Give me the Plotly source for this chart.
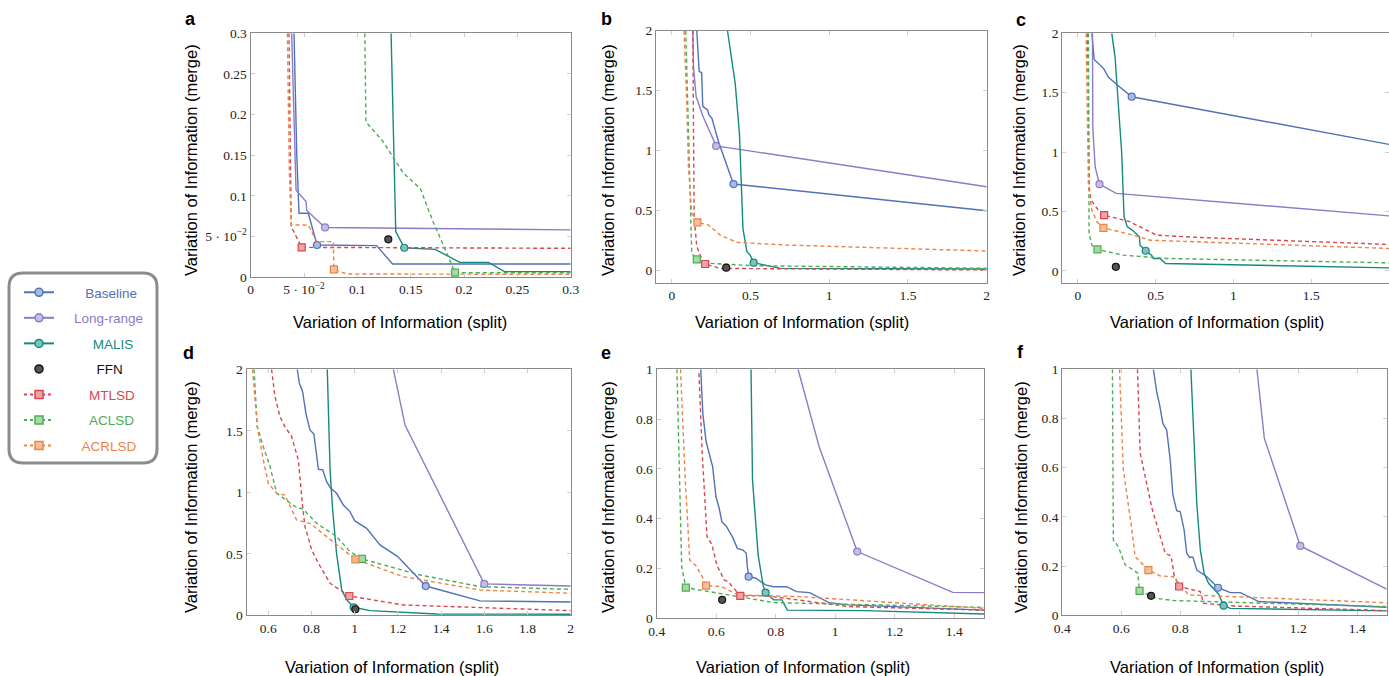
import plotly.graph_objects as go

W, H = 1389, 676

# ---------------- methods / styles ----------------
METHODS = ["Baseline", "Long-range", "MALIS", "FFN", "MTLSD", "ACLSD", "ACRLSD"]
LINE_COLORS = ["#4f72b8", "#8a7cc8", "#16897f", "#111111", "#d8474f", "#4cad52", "#ea8547"]
FILL_COLORS = ["#a9bbe2", "#c6bde6", "#7cc3bb", "#555555", "#eda3a7", "#a7d9a6", "#f5bf9b"]
DASHED = [False, False, False, False, True, True, True]
SYMBOLS = ["circle", "circle", "circle", "circle", "square", "square", "square"]
LEGEND_PAD = [7, 4, 9, 10, 8, 8, 6]   # leading spaces to centre the legend labels

# ---------------- panel a ----------------
a_baseline_x = [0.0406, 0.0432, 0.0453, 0.054, 0.0622, 0.118, 0.133, 0.3]
a_baseline_y = [0.3, 0.15, 0.0784, 0.0784, 0.0394, 0.0386, 0.016, 0.016]
a_longrange_x = [0.0384, 0.0425, 0.0519, 0.0525, 0.0697, 0.3]
a_longrange_y = [0.3, 0.107, 0.093, 0.082, 0.061, 0.058]
a_malis_x = [0.1316, 0.136, 0.144, 0.173, 0.196, 0.223, 0.238, 0.3]
a_malis_y = [0.3, 0.0558, 0.036, 0.034, 0.018, 0.018, 0.0066, 0.0066]
a_mtlsd_x = [0.0359, 0.0372, 0.038, 0.0478, 0.3]
a_mtlsd_y = [0.3, 0.12, 0.062, 0.0365, 0.0353]
a_aclsd_x = [0.107, 0.108, 0.124, 0.143, 0.159, 0.171, 0.184, 0.1916, 0.3]
a_aclsd_y = [0.3, 0.191, 0.167, 0.128, 0.109, 0.068, 0.029, 0.0053, 0.0053]
a_acrlsd_x = [0.0344, 0.0362, 0.038, 0.054, 0.062, 0.0775, 0.078, 0.09, 0.3]
a_acrlsd_y = [0.3, 0.13, 0.064, 0.064, 0.0435, 0.0435, 0.0094, 0.0037, 0.0033]
a_marks_x = [0.0622, 0.0697, 0.144, 0.129, 0.0478, 0.1916, 0.078]
a_marks_y = [0.0394, 0.061, 0.036, 0.0464, 0.0365, 0.0053, 0.0094]

# ---------------- panel b ----------------
b_baseline_x = [0.159, 0.174, 0.19, 0.197, 0.227, 0.236, 0.255, 0.269, 0.297, 0.392, 2.0]
b_baseline_y = [2.0, 1.66, 1.65, 1.37, 1.34, 1.30, 1.27, 1.21, 1.075, 0.722, 0.5]
b_longrange_x = [0.134, 0.138, 0.155, 0.2, 0.282, 2.0]
b_longrange_y = [2.0, 1.7, 1.45, 1.28, 1.04, 0.7]
b_malis_x = [0.354, 0.403, 0.43, 0.452, 0.477, 0.498, 0.52, 0.573, 0.69, 2.0]
b_malis_y = [2.0, 1.56, 1.14, 0.353, 0.158, 0.13, 0.067, 0.053, 0.019, 0.014]
b_mtlsd_x = [0.134, 0.138, 0.142, 0.159, 0.185, 0.212, 0.308, 2.0]
b_mtlsd_y = [2.0, 1.14, 0.45, 0.2, 0.117, 0.056, 0.019, 0.006]
b_aclsd_x = [0.089, 0.106, 0.117, 0.127, 0.159, 0.244, 0.52, 2.0]
b_aclsd_y = [2.0, 1.14, 0.45, 0.144, 0.094, 0.061, 0.042, 0.02]
b_acrlsd_x = [0.078, 0.095, 0.106, 0.127, 0.163, 0.233, 0.308, 0.414, 0.73, 2.0]
b_acrlsd_y = [2.0, 1.42, 0.87, 0.48, 0.403, 0.38, 0.297, 0.236, 0.214, 0.164]
b_marks_x = [0.392, 0.282, 0.52, 0.346, 0.212, 0.159, 0.163]
b_marks_y = [0.722, 1.04, 0.067, 0.025, 0.056, 0.094, 0.403]

# ---------------- panel c ----------------
c_baseline_x = [0.09, 0.105, 0.165, 0.197, 0.254, 0.346, 2.0]
c_baseline_y = [2.0, 1.78, 1.705, 1.63, 1.565, 1.466, 1.065]
c_longrange_x = [0.094, 0.096, 0.111, 0.139, 0.246, 2.0]
c_longrange_y = [2.0, 1.21, 0.876, 0.73, 0.652, 0.463]
c_malis_x = [0.218, 0.239, 0.282, 0.297, 0.318, 0.35, 0.395, 0.40, 0.436, 0.474, 0.485, 0.528, 0.564, 1.361, 2.0]
c_malis_y = [2.0, 1.8, 0.99, 0.455, 0.37, 0.343, 0.287, 0.216, 0.169, 0.132, 0.104, 0.104, 0.062, 0.042, 0.025]
c_mtlsd_x = [0.062, 0.073, 0.083, 0.132, 0.169, 0.335, 0.506, 0.784, 2.0]
c_mtlsd_y = [2.0, 0.708, 0.6, 0.511, 0.469, 0.413, 0.30, 0.281, 0.222]
c_aclsd_x = [0.068, 0.072, 0.09, 0.126, 0.293, 0.57, 2.0]
c_aclsd_y = [2.0, 0.315, 0.216, 0.18, 0.132, 0.104, 0.067]
c_acrlsd_x = [0.053, 0.068, 0.09, 0.122, 0.164, 0.357, 0.464, 0.784, 2.0]
c_acrlsd_y = [2.0, 0.708, 0.511, 0.413, 0.362, 0.30, 0.258, 0.244, 0.188]
c_marks_x = [0.346, 0.139, 0.436, 0.244, 0.169, 0.126, 0.164]
c_marks_y = [1.466, 0.73, 0.169, 0.034, 0.469, 0.18, 0.362]

# ---------------- panel d ----------------
d_baseline_x = [0.734, 0.744, 0.759, 0.774, 0.793, 0.811, 0.832, 0.852, 0.87, 0.889, 0.916, 0.947, 0.978,
                1.001, 1.055, 1.117, 1.199, 1.256, 1.329, 1.58, 2.0]
d_baseline_y = [2.0, 1.886, 1.818, 1.642, 1.507, 1.474, 1.187, 1.182, 1.087, 1.033, 0.992, 0.897, 0.843,
                0.767, 0.707, 0.572, 0.477, 0.369, 0.238, 0.117, 0.108]
d_longrange_x = [1.179, 1.233, 1.6, 2.0]
d_longrange_y = [2.0, 1.547, 0.255, 0.238]
d_malis_x = [0.873, 0.886, 0.898, 0.916, 0.94, 0.963, 0.995, 1.071, 1.379, 2.0]
d_malis_y = [2.0, 1.18, 0.856, 0.504, 0.206, 0.125, 0.065, 0.038, 0.011, 0.008]
d_mtlsd_x = [0.615, 0.631, 0.654, 0.677, 0.708, 0.739, 0.759, 0.77, 0.801, 0.832, 0.886, 0.947, 0.975, 1.225, 2.0]
d_mtlsd_y = [2.0, 1.778, 1.615, 1.534, 1.453, 1.263, 0.883, 0.721, 0.531, 0.423, 0.26, 0.192, 0.157, 0.084, 0.038]
d_aclsd_x = [0.534, 0.549, 0.577, 0.608, 0.639, 0.693, 0.724, 0.762, 0.824, 0.916, 0.978, 1.034, 1.302, 1.58, 2.0]
d_aclsd_y = [2.0, 1.534, 1.371, 1.209, 0.992, 0.924, 0.883, 0.862, 0.748, 0.64, 0.518, 0.458, 0.328, 0.233, 0.211]
d_acrlsd_x = [0.527, 0.549, 0.577, 0.6, 0.639, 0.677, 0.731, 0.793, 0.87, 0.947, 1.003, 1.225, 1.58, 2.0]
d_acrlsd_y = [2.0, 1.534, 1.263, 1.073, 0.992, 0.978, 0.775, 0.748, 0.64, 0.531, 0.455, 0.314, 0.206, 0.179]
d_marks_x = [1.329, 1.6, 0.995, 1.003, 0.975, 1.034, 1.003]
d_marks_y = [0.238, 0.255, 0.065, 0.049, 0.157, 0.458, 0.455]

# ---------------- panel e ----------------
e_baseline_x = [0.548, 0.555, 0.566, 0.588, 0.599, 0.61, 0.619, 0.635, 0.657, 0.671, 0.69, 0.701, 0.704,
                0.709, 0.733, 0.766, 0.793, 0.837, 0.87, 0.914, 0.979, 1.045, 1.5]
e_baseline_y = [1.0, 0.823, 0.71, 0.609, 0.489, 0.442, 0.388, 0.368, 0.321, 0.281, 0.274, 0.261, 0.214,
                0.167, 0.161, 0.134, 0.127, 0.127, 0.107, 0.103, 0.063, 0.054, 0.033]
e_longrange_x = [0.875, 0.946, 1.074, 1.395, 1.5]
e_longrange_y = [1.0, 0.689, 0.268, 0.104, 0.103]
e_malis_x = [0.717, 0.722, 0.741, 0.758, 0.766, 0.793, 0.821, 0.839, 1.099, 1.5]
e_malis_y = [1.0, 0.556, 0.254, 0.13, 0.103, 0.074, 0.074, 0.033, 0.031, 0.017]
e_mtlsd_x = [0.542, 0.553, 0.569, 0.586, 0.602, 0.627, 0.64, 0.681, 0.772, 1.045, 1.5]
e_mtlsd_y = [0.984, 0.663, 0.328, 0.295, 0.214, 0.154, 0.147, 0.09, 0.09, 0.047, 0.033]
e_aclsd_x = [0.468, 0.477, 0.484, 0.498, 0.64, 0.793, 1.5]
e_aclsd_y = [1.0, 0.529, 0.207, 0.123, 0.094, 0.063, 0.044]
e_acrlsd_x = [0.48, 0.496, 0.511, 0.533, 0.553, 0.566, 0.619, 0.673, 0.881, 1.5]
e_acrlsd_y = [1.0, 0.556, 0.234, 0.21, 0.167, 0.131, 0.127, 0.094, 0.087, 0.04]
e_marks_x = [0.709, 1.074, 0.766, 0.62, 0.681, 0.498, 0.566]
e_marks_y = [0.167, 0.268, 0.103, 0.074, 0.09, 0.123, 0.131]

# ---------------- panel f ----------------
f_baseline_x = [0.709, 0.72, 0.73, 0.741, 0.754, 0.766, 0.775, 0.788, 0.8, 0.813, 0.822, 0.831, 0.843,
                0.856, 0.89, 0.913, 0.928, 0.97, 1.004, 1.066, 1.5]
f_baseline_y = [1.0, 0.909, 0.855, 0.78, 0.753, 0.631, 0.489, 0.425, 0.421, 0.347, 0.252, 0.236, 0.236,
                0.184, 0.157, 0.13, 0.112, 0.092, 0.092, 0.056, 0.033]
f_longrange_x = [1.06, 1.085, 1.207, 1.5]
f_longrange_y = [1.0, 0.72, 0.282, 0.106]
f_malis_x = [0.836, 0.843, 0.856, 0.868, 0.881, 0.896, 0.93, 0.947, 0.97, 1.5]
f_malis_y = [1.0, 0.794, 0.455, 0.266, 0.171, 0.13, 0.087, 0.039, 0.028, 0.018]
f_mtlsd_x = [0.655, 0.664, 0.704, 0.749, 0.769, 0.779, 0.796, 0.868, 0.879, 0.981, 1.5]
f_mtlsd_y = [1.0, 0.659, 0.435, 0.252, 0.241, 0.164, 0.117, 0.096, 0.049, 0.038, 0.019]
f_aclsd_x = [0.57, 0.573, 0.59, 0.613, 0.641, 0.656, 0.662, 0.72, 0.777, 1.5]
f_aclsd_y = [1.0, 0.306, 0.279, 0.205, 0.184, 0.171, 0.099, 0.069, 0.06, 0.035]
f_acrlsd_x = [0.594, 0.607, 0.636, 0.647, 0.67, 0.692, 0.732, 0.777, 0.828, 0.981, 1.5]
f_acrlsd_y = [1.0, 0.591, 0.347, 0.238, 0.211, 0.184, 0.16, 0.157, 0.083, 0.076, 0.051]
f_marks_x = [0.928, 1.207, 0.947, 0.701, 0.796, 0.662, 0.692]
f_marks_y = [0.112, 0.282, 0.039, 0.079, 0.117, 0.099, 0.184]

# ---------------- tick labels ----------------
a_ticks = [0, 0.05, 0.1, 0.15, 0.2, 0.25, 0.3]
a_ticktext = ["0", "5 · 10<sup>−2</sup>", "0.1", "0.15", "0.2", "0.25", "0.3"]
bc_ticks = [0, 0.5, 1, 1.5, 2]
bc_ticktext = ["0", "0.5", "1", "1.5", "2"]
d_xticks = [0.6, 0.8, 1.0, 1.2, 1.4, 1.6, 1.8, 2.0]
d_xticktext = ["0.6", "0.8", "1", "1.2", "1.4", "1.6", "1.8", "2"]
ef_xticks = [0.4, 0.6, 0.8, 1.0, 1.2, 1.4]
ef_xticktext = ["0.4", "0.6", "0.8", "1", "1.2", "1.4"]
ef_yticks = [0, 0.2, 0.4, 0.6, 0.8, 1.0]
ef_yticktext = ["0", "0.2", "0.4", "0.6", "0.8", "1"]

XTITLE = "Variation of Information (split)"
YTITLE = "Variation of Information (merge)"

panels = [
    dict(label="a",
         curves=[(a_baseline_x, a_baseline_y), (a_longrange_x, a_longrange_y), (a_malis_x, a_malis_y), None,
                 (a_mtlsd_x, a_mtlsd_y), (a_aclsd_x, a_aclsd_y), (a_acrlsd_x, a_acrlsd_y)],
         mx=a_marks_x, my=a_marks_y, box=(250.7, 33.3, 570.7, 277.0),
         xr=[0, 0.3], yr=[0, 0.3], xt=(a_ticks, a_ticktext), yt=(a_ticks, a_ticktext),
         lab=(190, 19), xtit=(400, 322), ytit=(191, 160)),
    dict(label="b",
         curves=[(b_baseline_x, b_baseline_y), (b_longrange_x, b_longrange_y), (b_malis_x, b_malis_y), None,
                 (b_mtlsd_x, b_mtlsd_y), (b_aclsd_x, b_aclsd_y), (b_acrlsd_x, b_acrlsd_y)],
         mx=b_marks_x, my=b_marks_y, box=(656.0, 30.7, 986.7, 282.7),
         xr=[-0.1, 2], yr=[-0.1, 2], xt=(bc_ticks, bc_ticktext), yt=(bc_ticks, bc_ticktext),
         lab=(606, 19), xtit=(802, 322), ytit=(608, 160)),
    dict(label="c",
         curves=[(c_baseline_x, c_baseline_y), (c_longrange_x, c_longrange_y), (c_malis_x, c_malis_y), None,
                 (c_mtlsd_x, c_mtlsd_y), (c_aclsd_x, c_aclsd_y), (c_acrlsd_x, c_acrlsd_y)],
         mx=c_marks_x, my=c_marks_y, box=(1062.3, 33.3, 1389.0, 282.7),
         xr=[-0.1, 2], yr=[-0.1, 2], xt=(bc_ticks, bc_ticktext), yt=(bc_ticks, bc_ticktext),
         lab=(1021, 20), xtit=(1217, 322), ytit=(1019, 160)),
    dict(label="d",
         curves=[(d_baseline_x, d_baseline_y), (d_longrange_x, d_longrange_y), (d_malis_x, d_malis_y), None,
                 (d_mtlsd_x, d_mtlsd_y), (d_aclsd_x, d_aclsd_y), (d_acrlsd_x, d_acrlsd_y)],
         mx=d_marks_x, my=d_marks_y, box=(246.7, 369.3, 570.7, 615.3),
         xr=[0.5, 2], yr=[0, 2], xt=(d_xticks, d_xticktext), yt=(bc_ticks, bc_ticktext),
         lab=(188, 353), xtit=(392, 667), ytit=(191, 497)),
    dict(label="e",
         curves=[(e_baseline_x, e_baseline_y), (e_longrange_x, e_longrange_y), (e_malis_x, e_malis_y), None,
                 (e_mtlsd_x, e_mtlsd_y), (e_aclsd_x, e_aclsd_y), (e_acrlsd_x, e_acrlsd_y)],
         mx=e_marks_x, my=e_marks_y, box=(656.7, 369.3, 984.0, 618.3),
         xr=[0.4, 1.5], yr=[0, 1], xt=(ef_xticks, ef_xticktext), yt=(ef_yticks, ef_yticktext),
         lab=(606, 353), xtit=(803, 667), ytit=(608, 497)),
    dict(label="f",
         curves=[(f_baseline_x, f_baseline_y), (f_longrange_x, f_longrange_y), (f_malis_x, f_malis_y), None,
                 (f_mtlsd_x, f_mtlsd_y), (f_aclsd_x, f_aclsd_y), (f_acrlsd_x, f_acrlsd_y)],
         mx=f_marks_x, my=f_marks_y, box=(1062.3, 369.3, 1386.7, 615.3),
         xr=[0.4, 1.5], yr=[0, 1], xt=(ef_xticks, ef_xticktext), yt=(ef_yticks, ef_yticktext),
         lab=(1021, 352), xtit=(1217, 667), ytit=(1021, 497)),
]

SANS = "Liberation Sans, Arial, sans-serif"
SERIF = "Liberation Serif, Times New Roman, serif"

fig = go.Figure()
layout_axes = {}
annotations = []

for i, p in enumerate(panels, start=1):
    xa = "x" if i == 1 else f"x{i}"
    ya = "y" if i == 1 else f"y{i}"
    for j, c in enumerate(p["curves"]):
        if c is None:
            continue
        fig.add_trace(go.Scatter(
            x=c[0], y=c[1], mode="lines", xaxis=xa, yaxis=ya, showlegend=False, hoverinfo="skip",
            line=dict(color=LINE_COLORS[j], width=1.4, dash="4px,3px" if DASHED[j] else "solid")))
    for j in range(len(METHODS)):
        fig.add_trace(go.Scatter(
            x=[p["mx"][j]], y=[p["my"][j]], mode="markers", xaxis=xa, yaxis=ya, showlegend=False,
            hoverinfo="skip", cliponaxis=False,
            marker=dict(symbol=SYMBOLS[j], size=7, color=FILL_COLORS[j],
                        line=dict(color=LINE_COLORS[j], width=1.2))))
    x0, y0, x1, y1 = p["box"]
    axcommon = dict(showgrid=False, zeroline=False, showline=True, linecolor="#8a8a8a", linewidth=1.3,
                    mirror="ticks", ticks="inside", ticklen=4, tickcolor="#cfcfcf", tickwidth=1,
                    automargin=False,
                    tickfont=dict(family=SERIF, size=13.5, color="#222222"))
    layout_axes["xaxis" if i == 1 else f"xaxis{i}"] = dict(
        domain=[x0 / W, x1 / W], anchor=ya, range=p["xr"],
        tickvals=p["xt"][0], ticktext=p["xt"][1], **axcommon)
    layout_axes["yaxis" if i == 1 else f"yaxis{i}"] = dict(
        domain=[1 - y1 / H, 1 - y0 / H], anchor=xa, range=p["yr"],
        tickvals=p["yt"][0], ticktext=p["yt"][1], **axcommon)
    annotations.append(dict(text=f"<b>{p['label']}</b>", x=p["lab"][0] / W, y=1 - p["lab"][1] / H,
                            xref="paper", yref="paper", showarrow=False, xanchor="center", yanchor="middle",
                            font=dict(family=SANS, size=18, color="black")))
    annotations.append(dict(text=XTITLE, x=p["xtit"][0] / W, y=1 - p["xtit"][1] / H,
                            xref="paper", yref="paper", showarrow=False, xanchor="center", yanchor="middle",
                            font=dict(family=SANS, size=16.5, color="black")))
    annotations.append(dict(text=YTITLE, x=p["ytit"][0] / W, y=1 - p["ytit"][1] / H, textangle=-90,
                            xref="paper", yref="paper", showarrow=False, xanchor="center", yanchor="middle",
                            font=dict(family=SANS, size=16.5, color="black")))

# legend entries
for j, m in enumerate(METHODS):
    is_ffn = m == "FFN"
    pad = "&nbsp;" * LEGEND_PAD[j]
    fig.add_trace(go.Scatter(
        x=[None], y=[None], mode="markers" if is_ffn else "lines+markers",
        name=f'{pad}<span style="color:{LINE_COLORS[j]}">{m}</span>', legendgroup=m, showlegend=True,
        line=dict(color=LINE_COLORS[j], width=2, dash="dot" if DASHED[j] else "solid"),
        marker=dict(symbol=SYMBOLS[j], size=8, color=FILL_COLORS[j],
                    line=dict(color=LINE_COLORS[j], width=1.5))))

# rounded legend frame
bx0, by0, bx1, by1, r = 9, 273, 157, 463, 14
def P(x, y):
    return f"{x / W:.5f},{1 - y / H:.5f}"
frame = (f"M {P(bx0 + r, by0)} L {P(bx1 - r, by0)} Q {P(bx1, by0)} {P(bx1, by0 + r)} "
         f"L {P(bx1, by1 - r)} Q {P(bx1, by1)} {P(bx1 - r, by1)} L {P(bx0 + r, by1)} "
         f"Q {P(bx0, by1)} {P(bx0, by1 - r)} L {P(bx0, by0 + r)} Q {P(bx0, by0)} {P(bx0 + r, by0)} Z")

fig.update_layout(
    template="none",
    width=W, height=H, margin=dict(l=0, r=0, t=0, b=0, pad=0, autoexpand=False),
    plot_bgcolor="white", paper_bgcolor="white",
    showlegend=True,
    legend=dict(x=19 / W, y=1 - 277 / H, xanchor="left", yanchor="top", bgcolor="rgba(0,0,0,0)",
                borderwidth=0, font=dict(family=SANS, size=13.5), tracegroupgap=5, itemwidth=30,
                traceorder="grouped"),
    shapes=[dict(type="path", path=frame, xref="paper", yref="paper",
                 line=dict(color="#8c8c8c", width=3), fillcolor="rgba(0,0,0,0)", layer="above")],
    annotations=annotations,
    **layout_axes,
)

fig.write_html("out.html", config={"displayModeBar": False},
               post_script="document.body.style.margin='0px';document.body.style.overflow='hidden';")
